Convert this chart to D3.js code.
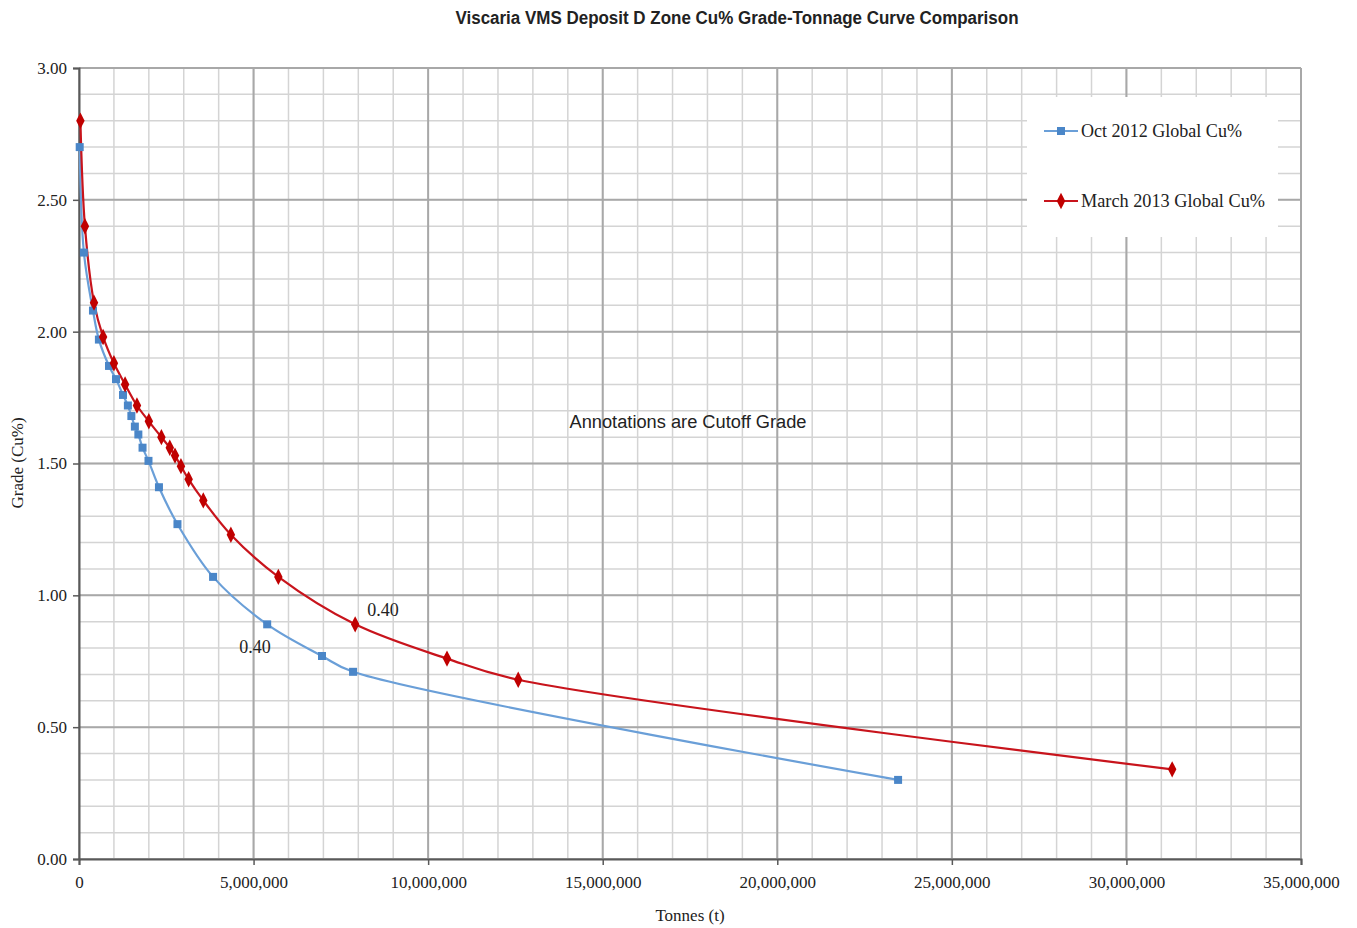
<!DOCTYPE html>
<html>
<head>
<meta charset="utf-8">
<script src="https://cdn.jsdelivr.net/npm/d3@7"></script>
<style>
  body { margin: 0; background: #fff; }
  svg { display: block; }
  .axis text { font-family: "Liberation Serif", "Times New Roman", serif; font-size: 17px; fill: #222; }
</style>
</head>
<body>
<div id="chart"></div>
<script>
// Tonnes (millions) and Cu% grade
const octTonnesM = [0.02, 0.14, 0.40, 0.57, 0.86, 1.06, 1.26, 1.40, 1.50, 1.60, 1.70, 1.82, 1.99, 2.29, 2.82, 3.84, 5.39, 6.96, 7.85, 23.46];
const octGrade   = [2.70, 2.30, 2.08, 1.97, 1.87, 1.82, 1.76, 1.72, 1.68, 1.64, 1.61, 1.56, 1.51, 1.41, 1.27, 1.07, 0.89, 0.77, 0.71, 0.30];

const marTonnesM = [0.04, 0.17, 0.43, 0.69, 1.00, 1.32, 1.66, 2.00, 2.36, 2.60, 2.75, 2.92, 3.14, 3.56, 4.35, 5.71, 7.91, 10.54, 12.58, 31.31];
const marGrade   = [2.80, 2.40, 2.11, 1.98, 1.88, 1.80, 1.72, 1.66, 1.60, 1.56, 1.53, 1.49, 1.44, 1.36, 1.23, 1.07, 0.89, 0.76, 0.68, 0.34];

const seriesNames = ['Oct 2012 Global Cu%', 'March 2013 Global Cu%'];
const xTicks = [0, 5e6, 10e6, 15e6, 20e6, 25e6, 30e6, 35e6];
const yTicks = [0, 0.5, 1.0, 1.5, 2.0, 2.5, 3.0];
const cutoffLabel = '0.40';

const W = 1357, H = 928;
const margin = { top: 68, right: 56, bottom: 69, left: 79 };
const width = W - margin.left - margin.right;
const height = H - margin.top - margin.bottom;

const blue = '#4a86c8', blueLine = '#6a9fd8';
const red = '#c00000', redLine = '#c8141c';
const serif = '"Liberation Serif", "Times New Roman", serif';

const svg = d3.select('#chart').append('svg')
  .attr('width', W).attr('height', H);

const g = svg.append('g')
  .attr('transform', `translate(${margin.left}, ${margin.top})`);

const x = d3.scaleLinear().domain([0, 35e6]).range([0, width]);
const y = d3.scaleLinear().domain([0, 3]).range([height, 0]);

const oct = octTonnesM.map((t, i) => ({ t: t * 1e6, g: octGrade[i] }));
const mar = marTonnesM.map((t, i) => ({ t: t * 1e6, g: marGrade[i] }));

// minor gridlines
const xMinor = d3.range(0, 35e6 + 1, 1e6);
const yMinor = d3.range(0, 31).map(d => d / 10);

g.append('g').selectAll('line').data(xMinor).enter().append('line')
  .attr('x1', d => x(d)).attr('x2', d => x(d))
  .attr('y1', 0).attr('y2', height)
  .attr('stroke', '#d4d4d4').attr('stroke-width', 1.5);

g.append('g').selectAll('line').data(yMinor).enter().append('line')
  .attr('x1', 0).attr('x2', width)
  .attr('y1', d => y(d)).attr('y2', d => y(d))
  .attr('stroke', '#d4d4d4').attr('stroke-width', 1.5);

// major gridlines
g.append('g').selectAll('line').data(xTicks).enter().append('line')
  .attr('x1', d => x(d)).attr('x2', d => x(d))
  .attr('y1', 0).attr('y2', height)
  .attr('stroke', '#a8a8a8').attr('stroke-width', 2);

g.append('g').selectAll('line').data(yTicks).enter().append('line')
  .attr('x1', 0).attr('x2', width)
  .attr('y1', d => y(d)).attr('y2', d => y(d))
  .attr('stroke', '#a8a8a8').attr('stroke-width', 2);

// legend background (covers grid)
const lg = g.append('g').attr('transform', `translate(${1027 - margin.left}, ${97 - margin.top})`);
lg.append('rect').attr('width', 251).attr('height', 140).attr('fill', '#fff');

// axes
const xAxis = g.append('g').attr('class', 'axis')
  .attr('transform', `translate(0, ${height})`)
  .call(d3.axisBottom(x).tickValues(xTicks).tickSize(6).tickPadding(8)
    .tickFormat(d3.format(',')));

const yAxis = g.append('g').attr('class', 'axis')
  .call(d3.axisLeft(y).tickValues(yTicks).tickSize(6).tickPadding(6)
    .tickFormat(d3.format('.2f')));

[xAxis, yAxis].forEach(a => {
  a.attr('font-family', null).attr('font-size', null);
  a.select('.domain').attr('stroke', '#595959').attr('stroke-width', 2);
  a.selectAll('.tick line').attr('stroke', '#595959').attr('stroke-width', 1.5);
});
xAxis.selectAll('.tick text').attr('dy', '0.9em');

// series lines
const line = d3.line()
  .x(d => x(d.t)).y(d => y(d.g))
  .curve(d3.curveCatmullRom.alpha(0.5));

g.append('path').datum(oct)
  .attr('d', line).attr('fill', 'none')
  .attr('stroke', blueLine).attr('stroke-width', 2.2);

g.append('path').datum(mar)
  .attr('d', line).attr('fill', 'none')
  .attr('stroke', redLine).attr('stroke-width', 2.2);

// markers
const sq = d3.symbol().type(d3.symbolSquare).size(64);
const dia = d3.symbol().type(d3.symbolDiamond).size(62);
const diaTf = ' scale(1, 1.12)';

g.append('g').selectAll('path').data(oct).enter().append('path')
  .attr('d', sq)
  .attr('transform', d => `translate(${x(d.t)}, ${y(d.g)})`)
  .attr('fill', blue);

g.append('g').selectAll('path').data(mar).enter().append('path')
  .attr('d', dia)
  .attr('transform', d => `translate(${x(d.t)}, ${y(d.g)})${diaTf}`)
  .attr('fill', red);

// cutoff annotations
g.append('text')
  .attr('x', x(mar[16].t) + 12).attr('y', y(mar[16].g) - 8)
  .attr('font-family', serif).attr('font-size', 18).attr('fill', '#222')
  .text(cutoffLabel);

g.append('text')
  .attr('x', x(oct[16].t) - 28).attr('y', y(oct[16].g) + 29)
  .attr('font-family', serif).attr('font-size', 18).attr('fill', '#222')
  .text(cutoffLabel);

g.append('text')
  .attr('x', 688 - margin.left).attr('y', 428 - margin.top)
  .attr('text-anchor', 'middle')
  .attr('font-family', '"Liberation Sans", Arial, sans-serif')
  .attr('font-size', 18).attr('fill', '#222')
  .attr('textLength', 237).attr('lengthAdjust', 'spacingAndGlyphs')
  .text('Annotations are Cutoff Grade');

// legend entries
const legendItems = [
  { name: seriesNames[0], color: blueLine, fill: blue, sym: sq, tf: '' },
  { name: seriesNames[1], color: redLine, fill: red, sym: dia, tf: diaTf }
];
legendItems.forEach((it, i) => {
  const cy = 34 + i * 70;
  lg.append('line')
    .attr('x1', 17).attr('x2', 51).attr('y1', cy).attr('y2', cy)
    .attr('stroke', it.color).attr('stroke-width', 2);
  lg.append('path').attr('d', it.sym)
    .attr('transform', `translate(34, ${cy})${it.tf}`)
    .attr('fill', it.fill);
  lg.append('text')
    .attr('x', 54).attr('y', cy + 6)
    .attr('font-family', serif).attr('font-size', 19).attr('fill', '#222')
    .attr('textLength', i === 0 ? 161 : 184).attr('lengthAdjust', 'spacingAndGlyphs')
    .text(it.name);
});

// title and axis titles
svg.append('text')
  .attr('x', 737).attr('y', 24)
  .attr('text-anchor', 'middle')
  .attr('font-family', '"Liberation Sans Narrow", "Liberation Sans", Arial, sans-serif')
  .attr('font-weight', 'bold').attr('font-size', 18).attr('fill', '#222')
  .attr('textLength', 563).attr('lengthAdjust', 'spacingAndGlyphs')
  .text('Viscaria VMS Deposit D Zone Cu% Grade-Tonnage Curve Comparison');

svg.append('text')
  .attr('x', 690).attr('y', 921)
  .attr('text-anchor', 'middle')
  .attr('font-family', serif).attr('font-size', 17).attr('fill', '#222')
  .text('Tonnes (t)');

svg.append('text')
  .attr('transform', 'translate(23, 463) rotate(-90)')
  .attr('text-anchor', 'middle')
  .attr('font-family', serif).attr('font-size', 17).attr('fill', '#222')
  .text('Grade (Cu%)');
</script>
</body>
</html>
